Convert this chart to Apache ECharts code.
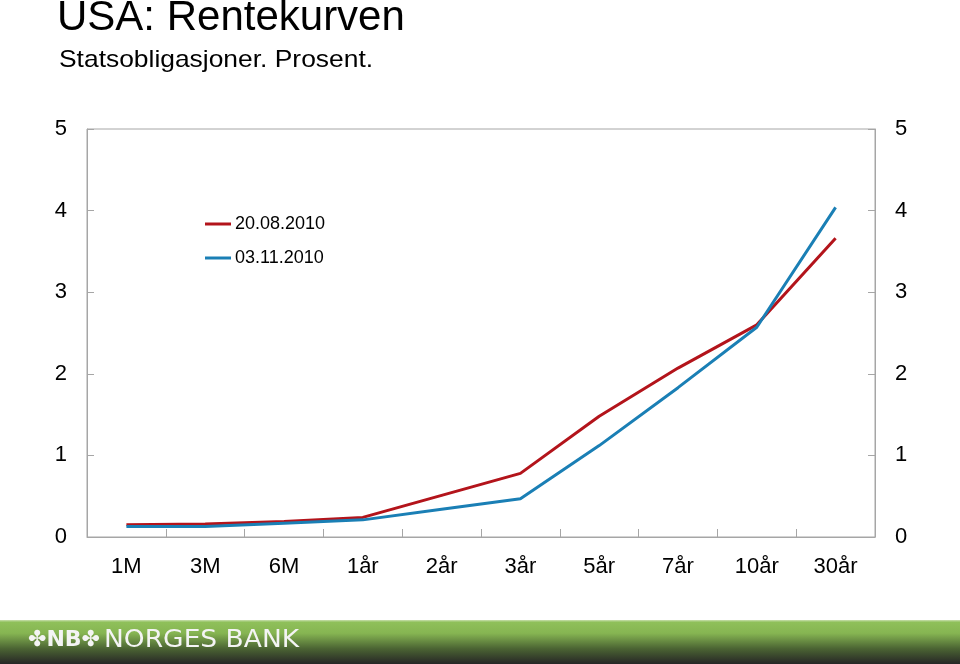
<!DOCTYPE html>
<html>
<head>
<meta charset="utf-8">
<script src="https://cdn.jsdelivr.net/npm/echarts@6/dist/echarts.min.js"></script>
<style>html,body{margin:0;padding:0;background:#fff;}#c{width:960px;height:664px;}</style>
</head>
<body>
<div id="c"></div>
<script>
const categories = ['1M','3M','6M','1år','2år','3år','5år','7år','10år','30år'];
const seriesNames = ['20.08.2010','03.11.2010'];
const aug2010 = [0.15, 0.16, 0.19, 0.24, 0.51, 0.78, 1.48, 2.07, 2.60, 3.66];
const nov2010 = [0.13, 0.13, 0.17, 0.21, 0.34, 0.47, 1.12, 1.83, 2.57, 4.04];
const yTicks = [0, 1, 2, 3, 4, 5];
const titleText = 'USA: Rentekurven';
const subtitleText = 'Statsobligasjoner. Prosent.';

const chart = echarts.init(document.getElementById('c'), null, {renderer: 'canvas'});
const font = '"Liberation Sans", Arial, sans-serif';
const axisGray = '#a6a6a6';
const yAxisCommon = {
  type: 'value', min: 0, max: 5, interval: 1,
  axisLine: {show: true, lineStyle: {color: axisGray, width: 1}},
  axisTick: {show: true, inside: true, length: 7, lineStyle: {color: axisGray}},
  splitLine: {show: false},
  axisLabel: {color: '#000', fontSize: 22, fontFamily: font, margin: 20,
    formatter: v => yTicks.includes(v) ? String(v) : ''}
};
chart.setOption({
  animation: false,
  backgroundColor: '#fff',
  legend: {
    data: seriesNames, orient: 'vertical', left: 200, top: 210,
    itemWidth: 26, itemHeight: 3, itemGap: 16,
    icon: 'rect',
    textStyle: {fontSize: 18, color: '#000', fontFamily: font, padding: [0,0,0,-1]}
  },
  grid: {left: 87, top: 129, right: 85, bottom: 127, show: true, borderColor: axisGray, borderWidth: 1},
  xAxis: {
    type: 'category', data: categories, boundaryGap: true,
    axisLine: {show: true, lineStyle: {color: axisGray}},
    axisTick: {show: true, inside: true, length: 8, lineStyle: {color: axisGray}},
    axisLabel: {color: '#000', fontSize: 22, fontFamily: font, margin: 19}
  },
  yAxis: [
    Object.assign({position: 'left'}, yAxisCommon),
    Object.assign({position: 'right'}, yAxisCommon)
  ],
  series: [
    {name: seriesNames[0], type: 'line', data: aug2010, symbol: 'none',
     lineStyle: {color: '#b3141b', width: 3}, itemStyle: {color: '#b3141b'}},
    {name: seriesNames[1], type: 'line', data: nov2010, symbol: 'none',
     lineStyle: {color: '#1a7fb5', width: 3}, itemStyle: {color: '#1a7fb5'}}
  ],
  graphic: [
    {type: 'text', x: 57, y: -2.5, silent: true,
     style: {text: titleText, fill: '#000', fontSize: 42, fontFamily: font}},
    {type: 'text', x: 59, y: 48.5, scaleX: 1.1, silent: true,
     style: {text: subtitleText, fill: '#000', fontSize: 24, fontFamily: font}},
    {type: 'rect', shape: {x: 0, y: 620, width: 960, height: 44}, silent: true,
     style: {fill: new echarts.graphic.LinearGradient(0, 0, 0, 1, [
       {offset: 0, color: '#c9dfae'},
       {offset: 0.05, color: '#8fc05a'},
       {offset: 0.3, color: '#86b552'},
       {offset: 0.65, color: '#4b6433'},
       {offset: 1, color: '#262626'}
     ])}},
    {type: 'text', x: 28, y: 629, silent: true,
     style: {text: '✤NB✤', fill: '#f4f4f4', fontSize: 22, fontFamily: '"DejaVu Sans", sans-serif', fontWeight: 'bold'}},
    {type: 'text', x: 104, y: 628, scaleX: 1.06, silent: true,
     style: {text: 'NORGES BANK', fill: '#f4f4f4', fontSize: 25, fontFamily: '"DejaVu Sans", sans-serif'}}
  ]
});
</script>
</body>
</html>
